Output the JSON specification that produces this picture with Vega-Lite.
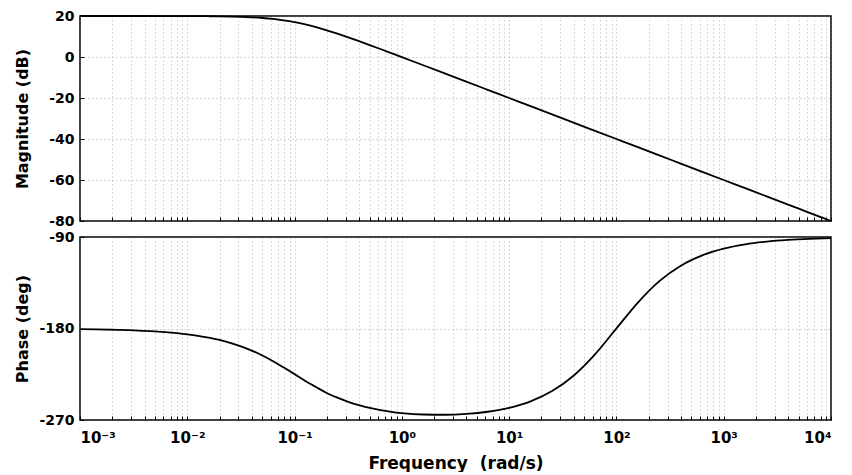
{
  "$schema": "https://vega.github.io/schema/vega-lite/v6.json",
  "padding": {"left": 13, "top": 8, "right": 4, "bottom": 0},
  "background": "white",
  "datasets": {
    "bode": [
      {"w": 0.001, "mag": 20.0, "phase": -180.57},
      {"w": 0.003162, "mag": 20.0, "phase": -181.81},
      {"w": 0.01, "mag": 19.96, "phase": -185.71},
      {"w": 0.01259, "mag": 19.93, "phase": -187.18},
      {"w": 0.01585, "mag": 19.89, "phase": -189.01},
      {"w": 0.01995, "mag": 19.83, "phase": -191.28},
      {"w": 0.02512, "mag": 19.73, "phase": -194.10},
      {"w": 0.03162, "mag": 19.59, "phase": -197.55},
      {"w": 0.03981, "mag": 19.36, "phase": -201.70},
      {"w": 0.05012, "mag": 19.03, "phase": -206.62},
      {"w": 0.0631, "mag": 18.55, "phase": -212.25},
      {"w": 0.07943, "mag": 17.88, "phase": -218.46},
      {"w": 0.1, "mag": 16.99, "phase": -224.89},
      {"w": 0.1259, "mag": 15.88, "phase": -231.54},
      {"w": 0.1585, "mag": 14.55, "phase": -237.57},
      {"w": 0.1995, "mag": 13.03, "phase": -243.38},
      {"w": 0.2512, "mag": 11.36, "phase": -248.01},
      {"w": 0.3162, "mag": 9.59, "phase": -252.09},
      {"w": 0.3981, "mag": 7.73, "phase": -255.44},
      {"w": 0.5012, "mag": 5.83, "phase": -258.15},
      {"w": 0.631, "mag": 3.89, "phase": -260.27},
      {"w": 0.7943, "mag": 1.93, "phase": -261.91},
      {"w": 1, "mag": -0.04, "phase": -263.14},
      {"w": 1.585, "mag": -4.02, "phase": -264.57},
      {"w": 2.512, "mag": -8.01, "phase": -264.84},
      {"w": 3.981, "mag": -12.0, "phase": -264.0},
      {"w": 6.31, "mag": -16.0, "phase": -261.87},
      {"w": 10, "mag": -20.0, "phase": -258.01},
      {"w": 15.85, "mag": -24.0, "phase": -251.63},
      {"w": 25.12, "mag": -28.0, "phase": -241.57},
      {"w": 39.81, "mag": -32.0, "phase": -226.46},
      {"w": 63.1, "mag": -36.0, "phase": -205.41},
      {"w": 100, "mag": -40.0, "phase": -179.94},
      {"w": 158.5, "mag": -44.0, "phase": -154.46},
      {"w": 251.2, "mag": -48.0, "phase": -133.38},
      {"w": 398.1, "mag": -52.0, "phase": -118.18},
      {"w": 631, "mag": -56.0, "phase": -108.0},
      {"w": 1000, "mag": -60.0, "phase": -101.42},
      {"w": 1585, "mag": -64.0, "phase": -97.21},
      {"w": 2512, "mag": -68.0, "phase": -94.56},
      {"w": 3981, "mag": -72.0, "phase": -92.88},
      {"w": 6310, "mag": -76.0, "phase": -91.82},
      {"w": 10000, "mag": -80.0, "phase": -91.15}
    ]
  },
  "data": {"name": "bode"},
  "config": {
    "font": "DejaVu Sans",
    "view": {"stroke": "black", "strokeWidth": 1.5},
    "axis": {
      "labelFont": "DejaVu Sans",
      "labelFontSize": 14,
      "labelFontWeight": "bold",
      "labelColor": "black",
      "titleFont": "DejaVu Sans",
      "titleFontSize": 16,
      "titleFontWeight": "bold",
      "titleColor": "black",
      "grid": true,
      "gridColor": "#777777",
      "gridDash": [1, 3],
      "gridOpacity": 0.55,
      "gridWidth": 1,
      "domain": false,
      "tickColor": "black",
      "tickSize": -4,
      "tickWidth": 1,
      "labelPadding": 10
    }
  },
  "spacing": 0,
  "vconcat": [
    {
      "width": 751,
      "height": 205,
      "mark": {"type": "line", "color": "black", "strokeWidth": 1.8, "interpolate": "monotone"},
      "encoding": {
        "x": {
          "field": "w", "type": "quantitative",
          "scale": {"type": "log", "domain": [0.001, 10000], "nice": false},
          "axis": {
            "title": null, "labels": false, "minExtent": 0, "maxExtent": 0,
            "values": [0.001,0.002,0.003,0.004,0.005,0.006,0.007,0.008,0.009,0.01,0.02,0.03,0.04,0.05,0.06,0.07,0.08,0.09,0.1,0.2,0.3,0.4,0.5,0.6,0.7,0.8,0.9,1,2,3,4,5,6,7,8,9,10,20,30,40,50,60,70,80,90,100,200,300,400,500,600,700,800,900,1000,2000,3000,4000,5000,6000,7000,8000,9000,10000]
          }
        },
        "y": {
          "field": "mag", "type": "quantitative",
          "scale": {"domain": [-80, 20], "nice": false, "zero": false},
          "axis": {
            "title": "Magnitude (dB)",
            "values": [-80, -60, -40, -20, 0, 20],
            "labelExpr": "'' + datum.value",
            "minExtent": 40, "maxExtent": 40, "titlePadding": 10
          }
        }
      }
    },
    {
      "width": 751,
      "height": 183,
      "mark": {"type": "line", "color": "black", "strokeWidth": 1.8, "interpolate": "monotone"},
      "encoding": {
        "x": {
          "field": "w", "type": "quantitative",
          "scale": {"type": "log", "domain": [0.001, 10000], "nice": false},
          "axis": {
            "title": "Frequency\u00a0\u00a0(rad/s)",
            "titlePadding": 10,
            "titleFontSize": 17,
            "labelPadding": 14,
            "values": [0.001,0.002,0.003,0.004,0.005,0.006,0.007,0.008,0.009,0.01,0.02,0.03,0.04,0.05,0.06,0.07,0.08,0.09,0.1,0.2,0.3,0.4,0.5,0.6,0.7,0.8,0.9,1,2,3,4,5,6,7,8,9,10,20,30,40,50,60,70,80,90,100,200,300,400,500,600,700,800,900,1000,2000,3000,4000,5000,6000,7000,8000,9000,10000],
            "labelExpr": "datum.value == 0.001 ? '10⁻³' : datum.value == 0.01 ? '10⁻²' : datum.value == 0.1 ? '10⁻¹' : datum.value == 1 ? '10⁰' : datum.value == 10 ? '10¹' : datum.value == 100 ? '10²' : datum.value == 1000 ? '10³' : datum.value == 10000 ? '10⁴' : ''",
            "labelFontSize": 15,
            "labelOverlap": false
          }
        },
        "y": {
          "field": "phase", "type": "quantitative",
          "scale": {"domain": [-270, -90], "nice": false, "zero": false},
          "axis": {
            "title": "Phase (deg)",
            "values": [-270, -180, -90],
            "labelExpr": "'' + datum.value",
            "minExtent": 40, "maxExtent": 40, "titlePadding": 10
          }
        }
      }
    }
  ]
}
